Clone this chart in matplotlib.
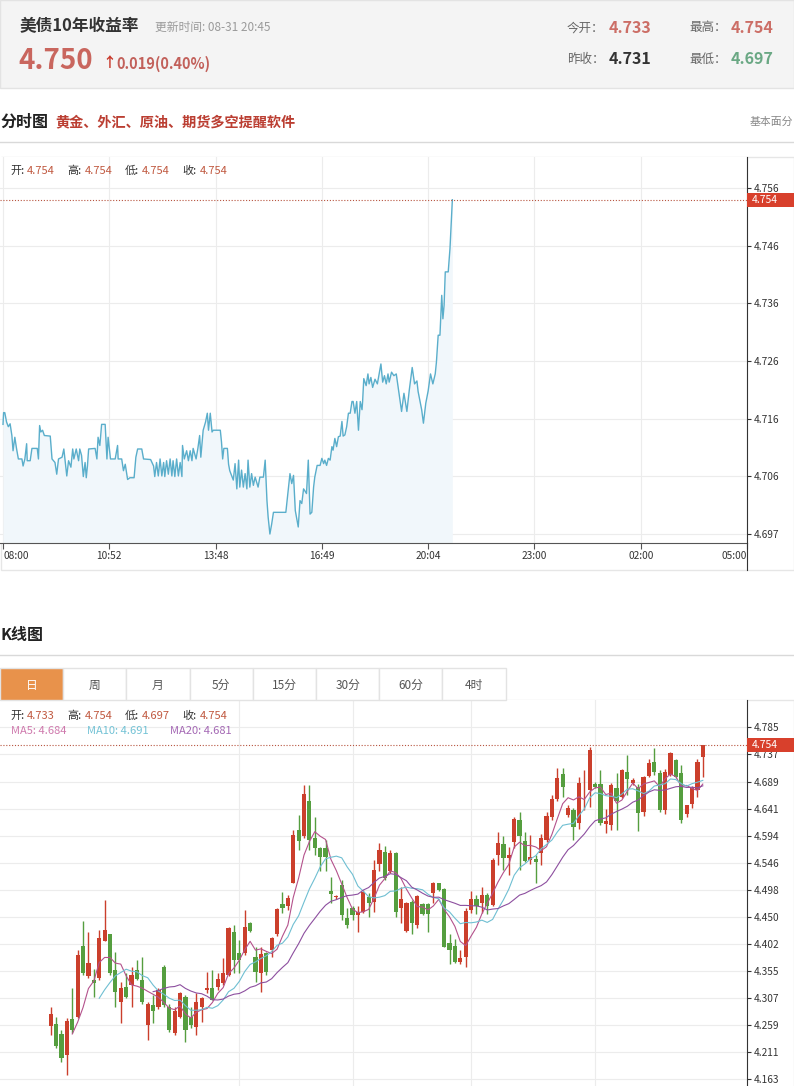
import numpy as np
import pandas as pd
import matplotlib
matplotlib.use("Agg")
import matplotlib.pyplot as plt
from matplotlib.lines import Line2D
from matplotlib.patches import Rectangle
from matplotlib.transforms import blended_transform_factory

plt.rcParams["font.family"] = ["Noto Sans CJK SC", "DejaVu Sans"]

# ---- quote header ----
title = "美债10年收益率"
update_time = "更新时间: 08-31 20:45"
last_price = "4.750"
change_text = "0.019(0.40%)"
open_today = "4.733"
prev_close = "4.731"
day_high = "4.754"
day_low = "4.697"

# ---- intraday (minutes after 08:00, yield) ----
intraday_min = [
    0, 1, 3, 6, 9, 12, 15, 17, 20, 23,
    26, 32, 34, 37, 40, 41, 46, 49, 58, 60,
    62, 64, 67, 70, 80, 83, 88, 91, 94, 100,
    103, 108, 111, 115, 118, 120, 124, 128, 130, 133,
    136, 139, 141, 143, 145, 156, 159, 161, 164, 167,
    173, 176, 178, 182, 190, 194, 195, 201, 204, 207,
    211, 215, 222, 225, 228, 235, 238, 250, 255, 257,
    260, 263, 266, 269, 272, 274, 277, 280, 283, 286,
    288, 291, 294, 297, 300, 303, 304, 307, 311, 314,
    317, 320, 322, 327, 330, 333, 335, 339, 343, 346,
    348, 351, 354, 356, 368, 370, 372, 374, 380, 382,
    384, 390, 393, 396, 399, 401, 404, 407, 410, 413,
    415, 418, 421, 424, 427, 432, 435, 441, 444, 447,
    449, 452, 455, 458, 479, 483, 486, 489, 492, 495,
    497, 500, 503, 506, 509, 511, 514, 517, 520, 523,
    526, 528, 532, 537, 540, 543, 545, 548, 551, 554,
    557, 559, 562, 565, 568, 571, 574, 576, 579, 582,
    585, 588, 591, 593, 596, 599, 602, 605, 608, 609,
    611, 615, 618, 620, 623, 626, 630, 634, 637, 640,
    643, 646, 649, 652, 654, 658, 662, 666, 668, 672,
    675, 679, 684, 688, 693, 697, 701, 703, 709, 712,
    716, 720, 724, 728, 732, 734, 737, 740, 743, 745,
    747, 749, 754, 757, 761,
]
intraday_val = [
    4.7157, 4.7177, 4.7177, 4.7161, 4.7153, 4.7158, 4.7138, 4.7112, 4.7135, 4.7115,
    4.7098, 4.7098, 4.7086, 4.7098, 4.7124, 4.7095, 4.7095, 4.7116, 4.7116, 4.7098,
    4.7155, 4.7144, 4.7147, 4.7138, 4.7137, 4.7098, 4.7092, 4.7072, 4.7098, 4.7101,
    4.7115, 4.7069, 4.7095, 4.7084, 4.7115, 4.7098, 4.7115, 4.7095, 4.7115, 4.7104,
    4.7068, 4.7092, 4.7066, 4.7086, 4.7115, 4.7116, 4.7098, 4.7135, 4.7121, 4.7157,
    4.7157, 4.7098, 4.7135, 4.7098, 4.7098, 4.7121, 4.7098, 4.7098, 4.7078, 4.7089,
    4.7063, 4.7066, 4.7066, 4.7101, 4.7115, 4.7115, 4.7098, 4.7097, 4.7086, 4.7068,
    4.7092, 4.7069, 4.7098, 4.7069, 4.7092, 4.7068, 4.7095, 4.7072, 4.7098, 4.7069,
    4.7095, 4.7068, 4.7098, 4.7069, 4.7092, 4.7068, 4.7121, 4.7098, 4.7112, 4.7095,
    4.7112, 4.7095, 4.7116, 4.7098, 4.7116, 4.7138, 4.7101, 4.7147, 4.7161, 4.7176,
    4.7147, 4.7176, 4.7144, 4.7147, 4.7147, 4.7127, 4.7098, 4.7116, 4.7116, 4.7089,
    4.7078, 4.7062, 4.7090, 4.7047, 4.7096, 4.7050, 4.7079, 4.7050, 4.7073, 4.7047,
    4.7096, 4.7050, 4.7073, 4.7053, 4.7067, 4.7050, 4.7067, 4.7067, 4.7096, 4.7027,
    4.6999, 4.6970, 4.6987, 4.7007, 4.7007, 4.7044, 4.7073, 4.7056, 4.7070, 4.7010,
    4.6999, 4.6982, 4.7027, 4.7022, 4.7047, 4.7044, 4.7039, 4.7096, 4.7004, 4.7007,
    4.7050, 4.7067, 4.7087, 4.7087, 4.7099, 4.7090, 4.7096, 4.7087, 4.7099, 4.7096,
    4.7119, 4.7113, 4.7133, 4.7119, 4.7136, 4.7137, 4.7162, 4.7137, 4.7139, 4.7153,
    4.7176, 4.7176, 4.7196, 4.7196, 4.7176, 4.7196, 4.7147, 4.7196, 4.7182, 4.7196,
    4.7235, 4.7223, 4.7243, 4.7226, 4.7237, 4.7220, 4.7234, 4.7226, 4.7243, 4.7260,
    4.7229, 4.7240, 4.7226, 4.7243, 4.7229, 4.7246, 4.7240, 4.7243, 4.7229, 4.7200,
    4.7179, 4.7210, 4.7179, 4.7215, 4.7254, 4.7226, 4.7231, 4.7213, 4.7182, 4.7159,
    4.7193, 4.7214, 4.7243, 4.7226, 4.7243, 4.7263, 4.7309, 4.7309, 4.7377, 4.7337,
    4.7360, 4.7417, 4.7417, 4.7457, 4.7540,
]
intraday_ticks = [0, 180, 360, 540, 720, 900, 1080, 1260]
intraday_tick_labels = ["08:00", "10:52", "13:48", "16:49", "20:04", "23:00", "02:00", "05:00"]
intraday_y_labels = ["4.697", "4.706", "4.716", "4.726", "4.736", "4.746", "4.756"]
intraday_ohlc = ["4.754", "4.754", "4.754", "4.754"]

# ---- daily candles ----
opens = [
    4.256, 4.260, 4.242, 4.205, 4.268, 4.273, 4.398, 4.344, 4.338, 4.341,
    4.407, 4.419, 4.355, 4.299, 4.326, 4.328, 4.355, 4.337, 4.258, 4.293,
    4.290, 4.361, 4.289, 4.243, 4.273, 4.308, 4.273, 4.254, 4.289, 4.320,
    4.323, 4.325, 4.332, 4.347, 4.422, 4.385, 4.385, 4.439, 4.379, 4.350,
    4.385, 4.390, 4.419, 4.472, 4.468, 4.510, 4.603, 4.592, 4.655, 4.590,
    4.571, 4.572, 4.495, 4.484, 4.506, 4.447, 4.465, 4.453, 4.459, 4.485,
    4.476, 4.544, 4.565, 4.530, 4.562, 4.465, 4.425, 4.476, 4.435, 4.472,
    4.472, 4.492, 4.509, 4.499, 4.403, 4.398, 4.370, 4.378, 4.462, 4.482,
    4.474, 4.488, 4.471, 4.559, 4.579, 4.553, 4.583, 4.622, 4.584, 4.551,
    4.552, 4.562, 4.586, 4.626, 4.658, 4.703, 4.630, 4.639, 4.615, 4.670,
    4.674, 4.685, 4.685, 4.614, 4.612, 4.677, 4.662, 4.707, 4.686, 4.680,
    4.635, 4.699, 4.723, 4.704, 4.638, 4.701, 4.727, 4.704, 4.632, 4.649,
    4.675, 4.733,
]
highs = [
    4.289, 4.273, 4.249, 4.270, 4.323, 4.391, 4.442, 4.423, 4.358, 4.427,
    4.479, 4.420, 4.388, 4.335, 4.350, 4.361, 4.373, 4.379, 4.299, 4.311,
    4.323, 4.364, 4.296, 4.290, 4.317, 4.311, 4.290, 4.314, 4.308, 4.352,
    4.355, 4.350, 4.376, 4.432, 4.435, 4.409, 4.462, 4.441, 4.397, 4.397,
    4.388, 4.414, 4.465, 4.494, 4.488, 4.603, 4.630, 4.683, 4.683, 4.627,
    4.574, 4.586, 4.521, 4.489, 4.515, 4.465, 4.468, 4.468, 4.497, 4.491,
    4.550, 4.580, 4.575, 4.568, 4.565, 4.503, 4.476, 4.479, 4.488, 4.474,
    4.474, 4.512, 4.510, 4.500, 4.420, 4.410, 4.390, 4.465, 4.496, 4.488,
    4.503, 4.491, 4.553, 4.599, 4.592, 4.574, 4.626, 4.636, 4.599, 4.595,
    4.559, 4.596, 4.636, 4.665, 4.713, 4.713, 4.648, 4.642, 4.698, 4.710,
    4.750, 4.689, 4.710, 4.640, 4.687, 4.705, 4.711, 4.736, 4.695, 4.685,
    4.699, 4.729, 4.748, 4.709, 4.711, 4.742, 4.729, 4.719, 4.648, 4.681,
    4.730, 4.754,
]
lows = [
    4.240, 4.217, 4.193, 4.169, 4.243, 4.270, 4.347, 4.341, 4.308, 4.338,
    4.406, 4.347, 4.290, 4.261, 4.305, 4.290, 4.338, 4.296, 4.231, 4.261,
    4.287, 4.290, 4.246, 4.240, 4.270, 4.228, 4.252, 4.240, 4.264, 4.314,
    4.302, 4.320, 4.329, 4.344, 4.350, 4.350, 4.382, 4.423, 4.335, 4.317,
    4.347, 4.379, 4.416, 4.456, 4.462, 4.509, 4.568, 4.589, 4.568, 4.559,
    4.530, 4.530, 4.474, 4.481, 4.444, 4.429, 4.444, 4.423, 4.456, 4.450,
    4.459, 4.530, 4.515, 4.527, 4.450, 4.438, 4.422, 4.420, 4.429, 4.453,
    4.423, 4.474, 4.496, 4.396, 4.366, 4.368, 4.366, 4.360, 4.456, 4.455,
    4.456, 4.455, 4.469, 4.541, 4.533, 4.524, 4.571, 4.533, 4.546, 4.543,
    4.509, 4.541, 4.583, 4.622, 4.654, 4.661, 4.626, 4.585, 4.606, 4.639,
    4.645, 4.677, 4.612, 4.598, 4.603, 4.603, 4.660, 4.665, 4.683, 4.602,
    4.628, 4.697, 4.701, 4.636, 4.632, 4.699, 4.695, 4.616, 4.626, 4.642,
    4.661, 4.697,
]
closes = [
    4.277, 4.220, 4.199, 4.265, 4.249, 4.382, 4.350, 4.367, 4.332, 4.412,
    4.427, 4.350, 4.317, 4.323, 4.308, 4.347, 4.339, 4.299, 4.295, 4.282,
    4.320, 4.293, 4.249, 4.282, 4.314, 4.249, 4.258, 4.299, 4.305, 4.324,
    4.303, 4.339, 4.350, 4.429, 4.373, 4.373, 4.431, 4.425, 4.351, 4.384,
    4.351, 4.412, 4.463, 4.466, 4.483, 4.595, 4.584, 4.667, 4.585, 4.571,
    4.555, 4.555, 4.490, 4.486, 4.453, 4.435, 4.452, 4.459, 4.494, 4.474,
    4.533, 4.568, 4.518, 4.562, 4.459, 4.481, 4.474, 4.438, 4.487, 4.455,
    4.455, 4.509, 4.497, 4.397, 4.390, 4.370, 4.376, 4.460, 4.481, 4.469,
    4.488, 4.469, 4.550, 4.580, 4.553, 4.560, 4.623, 4.593, 4.549, 4.556,
    4.546, 4.590, 4.628, 4.658, 4.695, 4.679, 4.643, 4.608, 4.686, 4.671,
    4.745, 4.680, 4.615, 4.620, 4.684, 4.655, 4.709, 4.693, 4.692, 4.634,
    4.697, 4.722, 4.707, 4.639, 4.706, 4.739, 4.698, 4.622, 4.647, 4.678,
    4.723, 4.754,
]
month_starts = [35, 56, 78, 101]
kline_y_labels = ["4.163", "4.211", "4.259", "4.307", "4.355", "4.402", "4.450",
                  "4.498", "4.546", "4.594", "4.641", "4.689", "4.737", "4.785"]
ma_periods = [5, 10, 20]
ma_labels = ["MA5: 4.684", "MA10: 4.691", "MA20: 4.681"]
kline_tabs = ["日", "周", "月", "5分", "15分", "30分", "60分", "4时"]

RED = "#cb3f2c"
GREEN = "#559e3f"
VAL_RED = "#c0583f"
MA_COLORS = ["#b4528c", "#6fbfd2", "#8d4f9f"]
MA_TEXT = ["#cf79ad", "#72c2d5", "#a468b4"]

W, H = 794, 1086
fig = plt.figure(figsize=(W / 100, H / 100), dpi=100)


def fx(x):
    return x / W


def fy(y):
    return 1 - y / H


def px_axes(x0, y0, x1, y1):
    return fig.add_axes([fx(x0), fy(y1), (x1 - x0) / W, (y1 - y0) / H])


def txt(x, y, s, size=9, color="#333333", weight="normal", ha="left", va="center"):
    fig.text(fx(x), fy(y), s, fontsize=size, color=color, fontweight=weight, ha=ha, va=va)


def line(x0, y0, x1, y1, color="#e2e2e2", lw=1.0):
    fig.add_artist(Line2D([fx(x0), fx(x1)], [fy(y0), fy(y1)], color=color, lw=lw,
                          transform=fig.transFigure))


def rect(x0, y0, x1, y1, fc="none", ec="#e2e2e2", lw=1.0, z=0):
    fig.add_artist(Rectangle((fx(x0), fy(y1)), (x1 - x0) / W, (y1 - y0) / H,
                             transform=fig.transFigure, facecolor=fc, edgecolor=ec,
                             lw=lw, zorder=z))


def price_tag(ax, value, half_h_px, text):
    # red tag on the right axis
    trans = blended_transform_factory(ax.transAxes, ax.transData)
    lo, hi = ax.get_ylim()
    ax_h = ax.get_position().height * H
    dv = half_h_px * (hi - lo) / ax_h
    ax.add_patch(Rectangle((1.0, value - dv), 50 / 747, 2 * dv, transform=trans,
                           facecolor="#d8402c", edgecolor="none", clip_on=False, zorder=10))
    ax.text(1.0 + 5 / 747, value, text, transform=trans, color="white", fontsize=7.5,
            va="center", ha="left", zorder=11, clip_on=False)


# ---- header ----
rect(0, 0, 794, 88, fc="#f4f4f4", ec="#e3e3e3")
txt(20, 26, title, 12, "#333333", "bold")
txt(155, 27, update_time, 8.5, "#9a9a9a")
txt(18, 61, last_price, 20, "#c9665e", "bold")
txt(102, 63, "↑", 10, "#c8382a", "bold")
txt(116, 64, change_text, 10.5, "#c2605a", "bold")
txt(567, 28, "今开：", 9, "#666666")
txt(609, 28, open_today, 11.5, "#cc6e66", "bold")
txt(689, 28, "最高：", 9, "#666666")
txt(731, 28, day_high, 11.5, "#cc6e66", "bold")
txt(567, 59, "昨收：", 9, "#666666")
txt(609, 59, prev_close, 11.5, "#333333", "bold")
txt(689, 59, "最低：", 9, "#666666")
txt(731, 59, day_low, 11.5, "#6aa884", "bold")

# ---- intraday section ----
txt(0, 122, "分时图", 11.5, "#222222", "bold")
txt(55, 122, "黄金、外汇、原油、期货多空提醒软件", 10.2, "#bb3e32", "bold")
txt(750, 122, "基本面分", 7.8, "#888888")
line(0, 142, 794, 142, "#d9d9d9")
rect(1, 157, 794, 570, ec="#e6e6e6")

ax1 = px_axes(0, 157, 747, 543)
iy_ticks = np.linspace(float(intraday_y_labels[0]), float(intraday_y_labels[-1]), len(intraday_y_labels))
ax1.set_ylim(4.69547, 4.76129)
ax1.set_xlim(-5.1, 1260)
ax1.fill_between(intraday_min, intraday_val, 4.69547, color="#f1f7fb", lw=0, zorder=1)
ax1.plot(intraday_min, intraday_val, color="#5aaecb", lw=1.0, zorder=3)
ax1.axhline(4.754, color="#b7543f", lw=0.8, ls=(0, (1, 1.6)), zorder=4)
ax1.set_yticks(iy_ticks)
ax1.set_yticklabels(intraday_y_labels)
ax1.set_xticks(intraday_ticks)
ax1.set_xticklabels(intraday_tick_labels)
labels = ax1.get_xticklabels()
labels[0].set_ha("left")
labels[-1].set_ha("right")
ax1.grid(True, color="#ececec", lw=0.8, zorder=0)
ax1.set_axisbelow(True)
for s in ["top", "left"]:
    ax1.spines[s].set_visible(False)
ax1.spines["bottom"].set_color("#555555")
ax1.spines["right"].set_color("#333333")
ax1.yaxis.tick_right()
ax1.tick_params(axis="y", length=3, width=0.8, color="#333333", labelsize=7.3,
                labelcolor="#333333", pad=1.5)
ax1.tick_params(axis="x", length=4, width=0.8, color="#555555", labelsize=7.3,
                labelcolor="#333333", pad=2)
price_tag(ax1, 4.754, 7, "4.754")
line(747, 543, 747, 570, "#333333", 0.8)

x = 10
for lab, val in zip(["开:", "高:", "低:", "收:"], intraday_ohlc):
    txt(x, 171, lab, 8, "#333333")
    txt(x + 17, 171, val, 8, VAL_RED)
    x += 57.5

# ---- kline section ----
txt(0, 635, "K线图", 11.5, "#222222", "bold")
line(0, 655, 794, 655, "#d9d9d9")
tab_w = 63.2
for i, t in enumerate(kline_tabs):
    x0 = i * tab_w
    rect(x0, 668, x0 + tab_w, 700, fc="#e8924b" if i == 0 else "white", ec="#e3e3e3", z=1)
    txt(x0 + tab_w / 2, 685, t, 8.5, "white" if i == 0 else "#555555", ha="center")
rect(1, 700, 794, 1090, ec="#e6e6e6")

ax2 = px_axes(0, 700, 747, 1086)
ky_ticks = np.linspace(float(kline_y_labels[0]), float(kline_y_labels[-1]), len(kline_y_labels))
ax2.set_ylim(4.1499, 4.8337)
ax2.set_xlim(-9.41, 129.2)
idx = np.arange(len(closes))
o = np.array(opens)
c = np.array(closes)
colors = np.where(c >= o, RED, GREEN)
ax2.vlines(idx, lows, highs, colors=colors, lw=1.0, zorder=2)
ax2.bar(idx, np.maximum(np.abs(c - o), 0.0015), bottom=np.minimum(o, c), width=0.78,
        color=colors, lw=0, zorder=3)
close_s = pd.Series(closes)
for n, col in zip(ma_periods, MA_COLORS):
    ax2.plot(idx, close_s.rolling(n).mean(), color=col, lw=0.8, zorder=4)
ax2.axhline(4.754, color="#b7543f", lw=0.8, ls=(0, (1, 1.6)), zorder=5)
ax2.set_yticks(ky_ticks)
ax2.set_yticklabels(kline_y_labels)
ax2.set_xticks(month_starts)
ax2.tick_params(axis="x", length=0, labelbottom=False)
ax2.grid(True, color="#ececec", lw=0.8, zorder=0)
ax2.set_axisbelow(True)
for s in ["top", "left", "bottom"]:
    ax2.spines[s].set_visible(False)
ax2.spines["right"].set_color("#333333")
ax2.yaxis.tick_right()
ax2.tick_params(axis="y", length=3, width=0.8, color="#333333", labelsize=7.3,
                labelcolor="#333333", pad=1.5)
price_tag(ax2, 4.754, 7, "4.754")

x = 10
for lab, val in zip(["开:", "高:", "低:", "收:"], [opens[-1], highs[-1], lows[-1], closes[-1]]):
    txt(x, 716, lab, 8, "#333333")
    txt(x + 17, 716, f"{val:.3f}", 8, VAL_RED)
    x += 57.5
for xx, lab, col in zip([11, 87, 170], ma_labels, MA_TEXT):
    txt(xx, 731, lab, 8, col)

fig.savefig("out.png", dpi=100)
